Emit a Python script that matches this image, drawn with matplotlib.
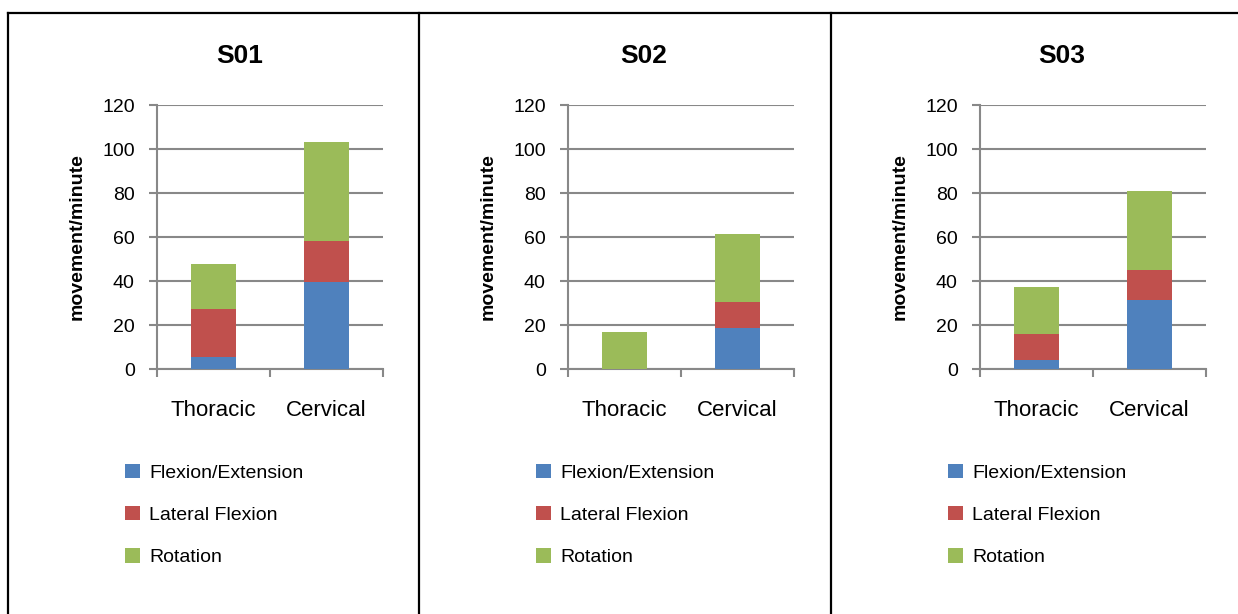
import numpy as np
import matplotlib
matplotlib.use("Agg")
import matplotlib.pyplot as plt
from matplotlib.lines import Line2D

plt.rcParams['font.family'] = ['Liberation Sans', 'DejaVu Sans']

# Données
sujets = ["S01", "S02", "S03"]
regions = ["Thoracic", "Cervical"]
mouvements = ["Flexion/Extension", "Lateral Flexion", "Rotation"]
couleurs = ["#4F81BD", "#C0504D", "#9BBB59"]

flexion_ext = {"S01": [5.6, 39.5], "S02": [0.0, 18.8], "S03": [4.3, 31.3]}
flexion_lat = {"S01": [21.9, 18.9], "S02": [0.0, 11.6], "S03": [11.8, 13.5]}
rotation = {"S01": [20.1, 44.9], "S02": [16.6, 30.8], "S03": [21.0, 36.1]}

y_ticks = [0, 20, 40, 60, 80, 100, 120]

W, H = 1238, 614
fig = plt.figure(figsize=(W / 100, H / 100), dpi=100)

# Positions des panneaux (pixels)
gauche_px = [157, 568, 980]
titre_px = [240, 644, 1062]
largeur_px = 226
bas_px = 369
haut_px = 264
gris = "#888888"

for k, s in enumerate(sujets):
    ax = fig.add_axes([gauche_px[k] / W, 1 - bas_px / H, largeur_px / W, haut_px / H])
    x = np.arange(len(regions))
    series = [flexion_ext[s], flexion_lat[s], rotation[s]]
    base = np.zeros(len(regions))
    for nom, val, c in zip(mouvements, series, couleurs):
        val = np.array(val)
        ax.bar(x, val, width=0.4, bottom=base, color=c, label=nom, zorder=3)
        base = base + val

    ax.set_xlim(-0.5, 1.5)
    ax.set_ylim(0, 120)
    ax.set_yticks(y_ticks)
    ax.yaxis.grid(True, color=gris, linewidth=1.5, zorder=0)
    ax.set_axisbelow(True)

    # graduations aux frontières, étiquettes au centre
    ax.set_xticks([-0.5, 0.5, 1.5])
    ax.set_xticklabels([])
    ax.set_xticks(x, minor=True)
    ax.set_xticklabels(regions, minor=True, fontsize=16)
    ax.tick_params(axis='x', which='minor', length=0, pad=22)
    ax.tick_params(axis='x', which='major', length=6, width=1.5, color=gris)
    ax.tick_params(axis='y', length=6, width=1.5, color=gris, labelsize=14, pad=10)

    for cote in ["top", "right"]:
        ax.spines[cote].set_visible(False)
    for cote in ["left", "bottom"]:
        ax.spines[cote].set_color(gris)
        ax.spines[cote].set_linewidth(1.5)

    ax.set_ylabel("movement/minute", fontsize=14, fontweight='bold', labelpad=12)
    fig.text(titre_px[k] / W, 1 - 56 / H, s, fontsize=19, fontweight='bold',
             ha='center', va='center')

    fig.legend(*ax.get_legend_handles_labels(), loc='upper left',
               bbox_to_anchor=((gauche_px[k] - 32) / W, 1 - 464 / H),
               frameon=False, fontsize=14, handlelength=0.75, handleheight=0.75,
               handletextpad=0.5, labelspacing=1.25, borderpad=0, borderaxespad=0)

# Cadres du tableau
lw = 1.6
fig.add_artist(Line2D([8 / W, 1], [1 - 13 / H, 1 - 13 / H], color='black', linewidth=lw))
for xp in [8, 419, 831]:
    fig.add_artist(Line2D([xp / W, xp / W], [0, 1 - 13 / H], color='black', linewidth=lw))

fig.savefig("out.png", dpi=100)
